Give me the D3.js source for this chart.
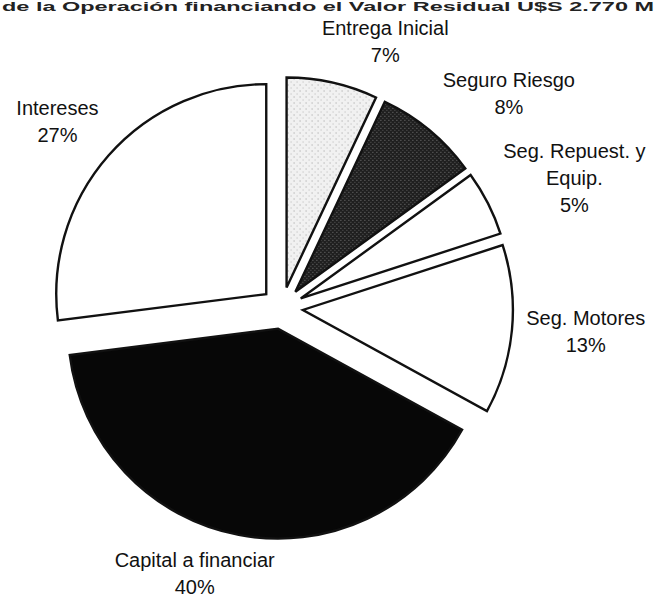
<!DOCTYPE html>
<html>
<head>
<meta charset="utf-8">
<script src="https://cdn.jsdelivr.net/npm/d3@7"></script>
<style>
  body { margin: 0; background: #fff; }
  svg { display: block; }
  text { font-family: "Liberation Sans", Arial, sans-serif; fill: #111; }
</style>
</head>
<body>
<svg></svg>
<script>
// chart data
const categories = ['Entrega Inicial', 'Seguro Riesgo', 'Seg. Repuest. y Equip.', 'Seg. Motores', 'Capital a financiar', 'Intereses'];
const labelLines = [['Entrega Inicial'], ['Seguro Riesgo'], ['Seg. Repuest. y', 'Equip.'], ['Seg. Motores'], ['Capital a financiar'], ['Intereses']];
const values = [7, 8, 5, 13, 40, 27];
const title = 'de la Operación financiando el Valor Residual U$S 2.770 M';

const width = 657,
      height = 607;

const cx = 282, cy = 308,
      radius = 210,
      explode = 21,
      labelRadius = 290;

// label nudges from the radial anchor (Excel-ish placement)
const labelNudge = [[40, 17], [42, 9], [34, 2], [15, -4], [-33, -19], [-7, 5]];
const fills = ['url(#lightDots)', 'url(#darkDots)', '#fff', '#fff', '#070707', '#fff'];

const svg = d3.select('svg')
              .attr('width', width)
              .attr('height', height);

// stipple patterns for the two grey slices
const defs = svg.append('defs');

const light = defs.append('pattern')
    .attr('id', 'lightDots')
    .attr('patternUnits', 'userSpaceOnUse')
    .attr('width', 6).attr('height', 6);
light.append('rect').attr('width', 6).attr('height', 6).attr('fill', '#f1f1f1');
light.append('rect').attr('x', 1).attr('y', 1).attr('width', 1).attr('height', 1).attr('fill', '#9a9a9a');
light.append('rect').attr('x', 4).attr('y', 4).attr('width', 1).attr('height', 1).attr('fill', '#b5b5b5');

const dark = defs.append('pattern')
    .attr('id', 'darkDots')
    .attr('patternUnits', 'userSpaceOnUse')
    .attr('width', 4).attr('height', 4);
dark.append('rect').attr('width', 4).attr('height', 4).attr('fill', '#1f1f1f');
dark.append('rect').attr('x', 1).attr('y', 0).attr('width', 1).attr('height', 1).attr('fill', '#7a7a7a');
dark.append('rect').attr('x', 3).attr('y', 2).attr('width', 1).attr('height', 1).attr('fill', '#5c5c5c');

// title: only a thin band of it shows at the top of the scan
svg.append('text')
   .attr('x', 2)
   .attr('y', 11)
   .attr('font-size', '13px')
   .attr('font-weight', 'bold')
   .attr('textLength', 652)
   .attr('lengthAdjust', 'spacingAndGlyphs')
   .style('fill', '#222')
   .text(title);

const pie = d3.pie().sort(null).value(d => d);
const arcs = pie(values);

const arc = d3.arc()
              .innerRadius(0)
              .outerRadius(radius);

const g = svg.append('g').attr('transform', 'translate(' + cx + ',' + cy + ')');

// slices, each pushed out along its bisector
g.selectAll('.slice')
 .data(arcs)
 .enter()
 .append('path')
 .attr('class', 'slice')
 .attr('d', arc)
 .attr('transform', d => {
   const mid = (d.startAngle + d.endAngle) / 2;
   const p = d3.pointRadial(mid, explode);
   return 'translate(' + p[0] + ',' + p[1] + ')';
 })
 .attr('fill', (d, i) => fills[i])
 .attr('stroke', '#111')
 .attr('stroke-width', 2.4)
 .attr('stroke-linejoin', 'miter');

// labels: name lines + percent
const lineH = 27;
g.selectAll('.label')
 .data(arcs)
 .enter()
 .append('text')
 .attr('class', 'label')
 .attr('text-anchor', 'middle')
 .attr('font-size', '20px')
 .each(function(d, i) {
   const mid = (d.startAngle + d.endAngle) / 2;
   const p = d3.pointRadial(mid, labelRadius);
   const x = p[0] + labelNudge[i][0];
   const lines = labelLines[i].concat([values[i] + '%']);
   const y0 = p[1] + labelNudge[i][1] - (lines.length - 1) * lineH / 2 + 7;
   const t = d3.select(this);
   lines.forEach((s, k) => {
     t.append('tspan').attr('x', x).attr('y', y0 + k * lineH).text(s);
   });
 });
</script>
</body>
</html>
